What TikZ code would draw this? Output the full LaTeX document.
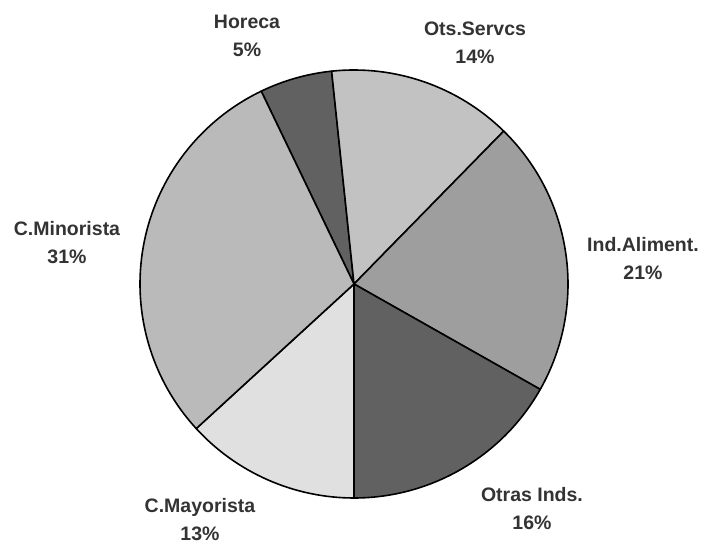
\documentclass[tikz,border=0pt]{standalone}
\usepackage{fontspec}
\setmainfont{Liberation Sans}
\begin{document}
\begin{tikzpicture}[x=1pt,y=1pt,
  slice/.style={draw=black, line width=1.6pt, line join=round},
  lbl/.style={font=\fontsize{19.5}{28}\selectfont\bfseries, text=black!80, align=center, inner sep=0pt}]
\useasboundingbox (0,0) rectangle (705,544);
\fill[white] (0,0) rectangle (705,544);
\coordinate (c) at (354,260);
\def\R{214}
% slices, clockwise from the top
\filldraw[slice, fill=black!62] (c) -- ++(115.7:\R) arc[start angle=115.7, end angle=96, radius=\R] -- cycle;
\filldraw[slice, fill=black!24] (c) -- ++(96:\R) arc[start angle=96, end angle=45.6, radius=\R] -- cycle;
\filldraw[slice, fill=black!38] (c) -- ++(45.6:\R) arc[start angle=45.6, end angle=-29.5, radius=\R] -- cycle;
\filldraw[slice, fill=black!62] (c) -- ++(-29.5:\R) arc[start angle=-29.5, end angle=-90, radius=\R] -- cycle;
\filldraw[slice, fill=black!12] (c) -- ++(-90:\R) arc[start angle=-90, end angle=-137.5, radius=\R] -- cycle;
\filldraw[slice, fill=black!27] (c) -- ++(-137.5:\R) arc[start angle=-137.5, end angle=-244.3, radius=\R] -- cycle;
% labels
\node[lbl] (horeca) at (247,508) {Horeca\\5\%};
\node[lbl] (ots) at (475,501) {Ots.Servcs\\14\%};
\node[lbl] (ind) at (643,285) {Ind.Aliment.\\21\%};
\node[lbl] (otras) at (532,35) {Otras Inds.\\16\%};
\node[lbl] (mayor) at (200,24) {C.Mayorista\\13\%};
\node[lbl] (minor) at (67,301) {C.Minorista\\31\%};
\end{tikzpicture}
\end{document}
